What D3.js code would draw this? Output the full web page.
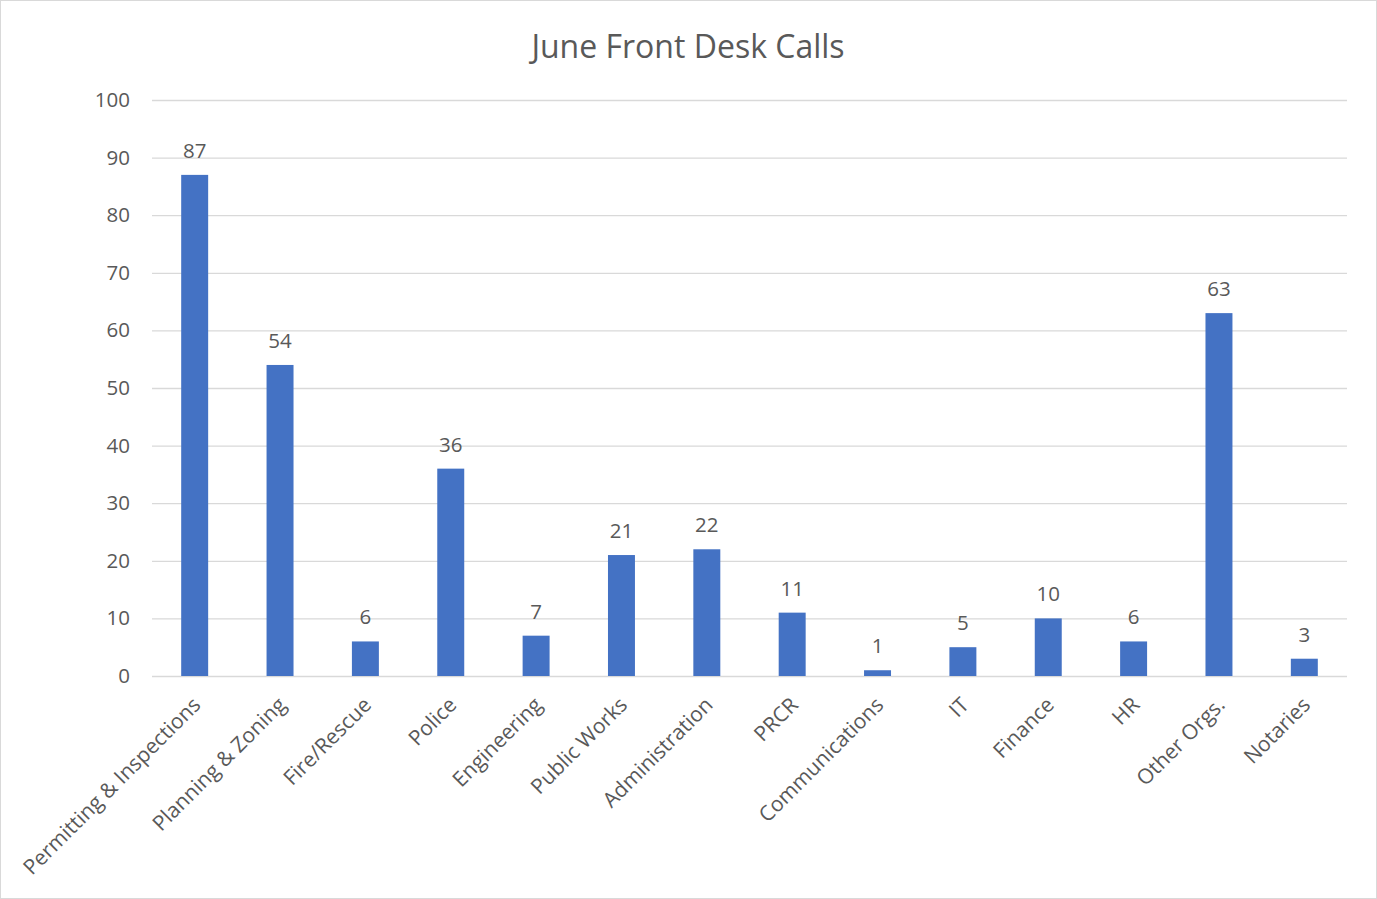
<!DOCTYPE html>
<html>
<head>
<meta charset="utf-8">
<script src="https://cdn.jsdelivr.net/npm/d3@7"></script>
<style>
  html, body { margin: 0; padding: 0; background: #fff; }
  svg { display: block; }
  text { font-family: "Open Sans", "Noto Sans", sans-serif; fill: #595959; }
</style>
</head>
<body>
<svg id="chart" width="1377" height="899"></svg>
<script>
// Calls received at the front desk in June, by department
const categories = [
  "Permitting & Inspections", "Planning & Zoning", "Fire/Rescue", "Police",
  "Engineering", "Public Works", "Administration", "PRCR", "Communications",
  "IT", "Finance", "HR", "Other Orgs.", "Notaries"
];
const calls = [87, 54, 6, 36, 7, 21, 22, 11, 1, 5, 10, 6, 63, 3];
const yTicks = [0, 10, 20, 30, 40, 50, 60, 70, 80, 90, 100];
const title = "June Front Desk Calls";

const W = 1377, H = 899;
const margin = { top: 100, right: 30, bottom: 223, left: 152 };
const svg = d3.select("#chart");

// outer frame
svg.append("rect")
  .attr("x", 0.5).attr("y", 0.5)
  .attr("width", W - 1).attr("height", H - 1)
  .attr("fill", "#fff").attr("stroke", "#d9d9d9").attr("stroke-width", 1);

const x = d3.scaleBand()
  .domain(categories)
  .range([margin.left, W - margin.right])
  .paddingInner(0.684)
  .paddingOuter(0.342);

const y = d3.scaleLinear()
  .domain([0, 100])
  .range([H - margin.bottom, margin.top]);

// title
svg.append("text")
  .attr("x", 688).attr("y", 58)
  .attr("text-anchor", "middle")
  .style("font-size", "32px")
  .text(title);

// gridlines + y labels
const yAxis = svg.append("g")
  .attr("transform", `translate(${margin.left},0)`)
  .call(d3.axisLeft(y).tickValues(yTicks).tickSize(-(W - margin.left - margin.right)).tickPadding(22));
yAxis.select(".domain").remove();
yAxis.selectAll(".tick line").attr("stroke", "#d9d9d9").attr("stroke-width", 1.3);
yAxis.selectAll(".tick text")
  .attr("fill", "#595959")
  .style("font-size", "20.5px")
  .style("font-family", "'Open Sans', sans-serif");

// bars
svg.append("g").selectAll("rect")
  .data(categories)
  .join("rect")
  .attr("x", d => x(d))
  .attr("y", (d, i) => y(calls[i]))
  .attr("width", x.bandwidth())
  .attr("height", (d, i) => y(0) - y(calls[i]))
  .attr("fill", "#4472c4");

// value labels
svg.append("g").selectAll("text")
  .data(categories)
  .join("text")
  .attr("x", d => x(d) + x.bandwidth() / 2)
  .attr("y", (d, i) => y(calls[i]) - 17)
  .attr("text-anchor", "middle")
  .style("font-size", "20.5px")
  .text((d, i) => calls[i]);

// category labels, rotated
const xAxis = svg.append("g")
  .attr("transform", `translate(0,${y(0)})`)
  .call(d3.axisBottom(x).tickSize(0).tickPadding(0));
xAxis.select(".domain").remove();
xAxis.selectAll(".tick text")
  .attr("fill", "#595959")
  .style("font-size", "21px")
  .style("font-family", "'Open Sans', sans-serif")
  .attr("text-anchor", "end")
  .attr("transform", "translate(2,25) rotate(-45)")
  .attr("x", 0).attr("y", 0).attr("dy", "0.35em");
</script>
</body>
</html>
